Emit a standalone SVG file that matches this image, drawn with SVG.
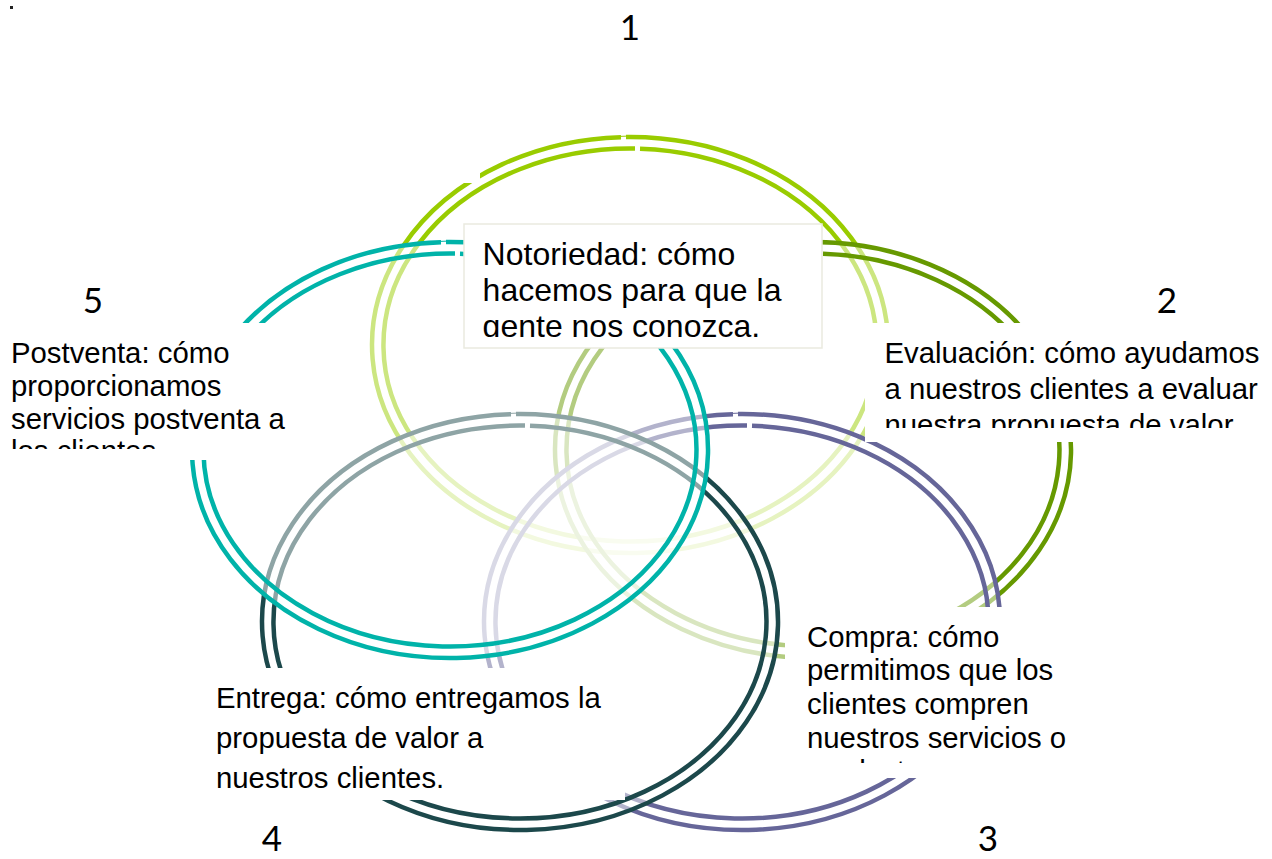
<svg xmlns="http://www.w3.org/2000/svg" width="1272" height="859" viewBox="0 0 1272 859">
<defs>
<style>
.rf{fill:#fff;fill-opacity:.5}
.rl{fill:none;stroke-width:4.5}
.box{fill:#fff;stroke:none}
.t{font-family:"Liberation Sans",Arial,sans-serif;font-size:29.33px;fill:#000}
.tn{font-family:"Liberation Sans",Arial,sans-serif;font-size:32px;fill:#000}
.num{font-family:Lato,"Open Sans",sans-serif;font-size:35px;fill:#000;text-anchor:middle}
</style>
<clipPath id="c-not"><rect x="464" y="224" width="358" height="113"/></clipPath>
<clipPath id="c-post"><rect x="0" y="323" width="300" height="126"/></clipPath>
<clipPath id="c-eval"><rect x="865" y="323" width="407" height="105"/></clipPath>
<clipPath id="c-comp"><rect x="785" y="607" width="290" height="156"/></clipPath>
</defs>
<rect width="1272" height="859" fill="#fff"/>
<rect x="10" y="6" width="3" height="3" fill="#222"/>

<g id="rings">
<g id="ring-1" stroke="#99CC00">
<ellipse class="rf" cx="630" cy="345" rx="259" ry="209"/>
<path class="rl" d="M626,137.025 A258,208 0 1 1 621,137.127"/>
<path class="rl" d="M640,148.662 A246.5,196.5 0 1 1 635,148.54"/>
</g>
<g id="ring-2" stroke="#669900">
<ellipse class="rf" cx="813" cy="450" rx="259" ry="209"/>
<path class="rl" d="M809,242.025 A258,208 0 1 1 804,242.127"/>
<path class="rl" d="M823,253.662 A246.5,196.5 0 1 1 818,253.54"/>
</g>
<g id="ring-3" stroke="#666699">
<ellipse class="rf" cx="742" cy="622" rx="259" ry="209"/>
<path class="rl" d="M738,414.025 A258,208 0 1 1 733,414.127"/>
<path class="rl" d="M752,425.662 A246.5,196.5 0 1 1 747,425.54"/>
</g>
<g id="ring-4" stroke="#1C484B">
<ellipse class="rf" cx="520" cy="622" rx="259" ry="209"/>
<path class="rl" d="M516,414.025 A258,208 0 1 1 511,414.127"/>
<path class="rl" d="M530,425.662 A246.5,196.5 0 1 1 525,425.54"/>
</g>
<g id="ring-5" stroke="#00B3A9">
<ellipse class="rf" cx="450" cy="450" rx="259" ry="209"/>
<path class="rl" d="M446,242.025 A258,208 0 1 1 441,242.127"/>
<path class="rl" d="M460,253.662 A246.5,196.5 0 1 1 455,253.54"/>
</g>
</g>

<rect class="box" x="400" y="120" width="80" height="63"/>

<g id="node-1">
<rect x="464" y="224" width="358" height="124" fill="#fff" stroke="#EAEADF" stroke-width="1.5"/>
<g clip-path="url(#c-not)">
<text class="tn" x="482.6" y="264.5">Notoriedad: cómo</text>
<text class="tn" x="482.6" y="300.5">hacemos para que la</text>
<text class="tn" x="482.6" y="336.8">gente nos conozca.</text>
</g>
<text class="num" x="630" y="40">1</text>
</g>

<g id="node-2">
<rect class="box" x="865" y="323" width="407" height="119"/>
<g clip-path="url(#c-eval)">
<text class="t" x="884.5" y="363.3">Evaluación: cómo ayudamos</text>
<text class="t" x="884.5" y="399">a nuestros clientes a evaluar</text>
<text class="t" x="884.5" y="434.7">nuestra propuesta de valor.</text>
</g>
<text class="num" x="1167" y="313">2</text>
</g>

<g id="node-3">
<rect class="box" x="785" y="607" width="290" height="171"/>
<g clip-path="url(#c-comp)">
<text class="t" x="807" y="646.7">Compra: cómo</text>
<text class="t" x="807" y="680.3">permitimos que los</text>
<text class="t" x="807" y="713.9">clientes compren</text>
<text class="t" x="807" y="747.5">nuestros servicios o</text>
<text class="t" x="807" y="781.1">productos.</text>
</g>
<text class="num" x="988" y="851">3</text>
</g>

<g id="node-4">
<rect class="box" x="200" y="668" width="425" height="132"/>
<text class="t" x="216" y="708.3">Entrega: cómo entregamos la</text>
<text class="t" x="216" y="748.3">propuesta de valor a</text>
<text class="t" x="216" y="788.3">nuestros clientes.</text>
<text class="num" x="272" y="851">4</text>
</g>

<g id="node-5">
<rect class="box" x="0" y="323" width="300" height="137"/>
<g clip-path="url(#c-post)">
<text class="t" x="11" y="362.7">Postventa: cómo</text>
<text class="t" x="11" y="395.6">proporcionamos</text>
<text class="t" x="11" y="428.5">servicios postventa a</text>
<text class="t" x="11" y="461.4">los clientes.</text>
</g>
<text class="num" x="93" y="313">5</text>
</g>
</svg>
